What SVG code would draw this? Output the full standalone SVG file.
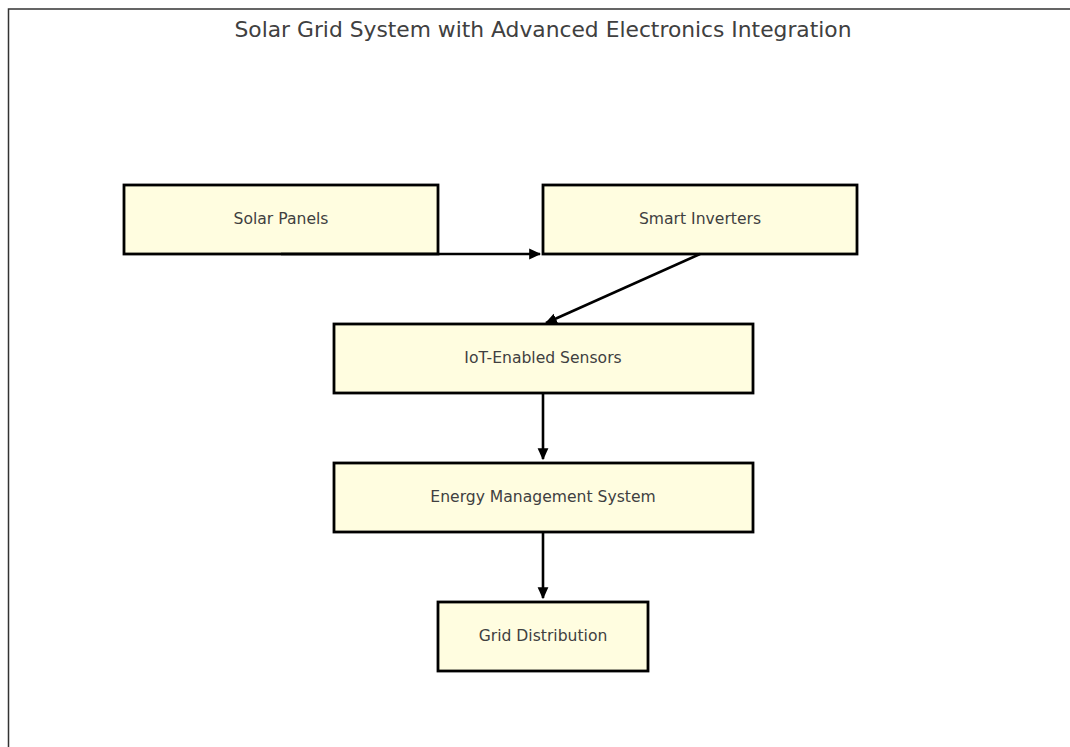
<svg xmlns="http://www.w3.org/2000/svg" width="1070" height="747" viewBox="0 0 1070 747">
<style>
.box{fill:#fffde0;stroke:#000;stroke-width:2.8}
.lbl{font-family:"DejaVu Sans",sans-serif;font-size:15.6px;fill:#404040;text-anchor:middle;dominant-baseline:central}
.title{font-family:"DejaVu Sans",sans-serif;font-size:21.8px;fill:#404040;text-anchor:middle}
.edge{stroke:#000;stroke-width:2.6;fill:none;marker-end:url(#ah)}
</style>
<defs>
<marker id="ah" markerWidth="12" markerHeight="12" viewBox="0 0 10 10" refX="9" refY="5" orient="auto" markerUnits="userSpaceOnUse">
<path d="M0,0.5 L10,5 L0,9.5 Z" fill="#000"/>
</marker>
</defs>
<rect x="0" y="0" width="1070" height="747" fill="#fff"/>
<path d="M8.5,760 L8.5,9 L1080,9" fill="none" stroke="#333" stroke-width="1.5"/>
<text class="title" x="543" y="37">Solar Grid System with Advanced Electronics Integration</text>
<g id="n1"><rect class="box" x="124" y="185" width="314" height="69"/><text class="lbl" x="281" y="219">Solar Panels</text></g>
<g id="n2"><rect class="box" x="543" y="185" width="314" height="69"/><text class="lbl" x="700" y="219">Smart Inverters</text></g>
<g id="n3"><rect class="box" x="334" y="324" width="419" height="69"/><text class="lbl" x="543" y="358">IoT-Enabled Sensors</text></g>
<g id="n4"><rect class="box" x="334" y="463" width="419" height="69"/><text class="lbl" x="543" y="497">Energy Management System</text></g>
<g id="n5"><rect class="box" x="438" y="602" width="210" height="69"/><text class="lbl" x="543" y="636">Grid Distribution</text></g>
<g id="edges">
<path class="edge" d="M281,254 L540,254"/>
<path class="edge" d="M700,254 L546,323"/>
<path class="edge" d="M543,393 L543,459"/>
<path class="edge" d="M543,532 L543,598"/>
</g>
</svg>
